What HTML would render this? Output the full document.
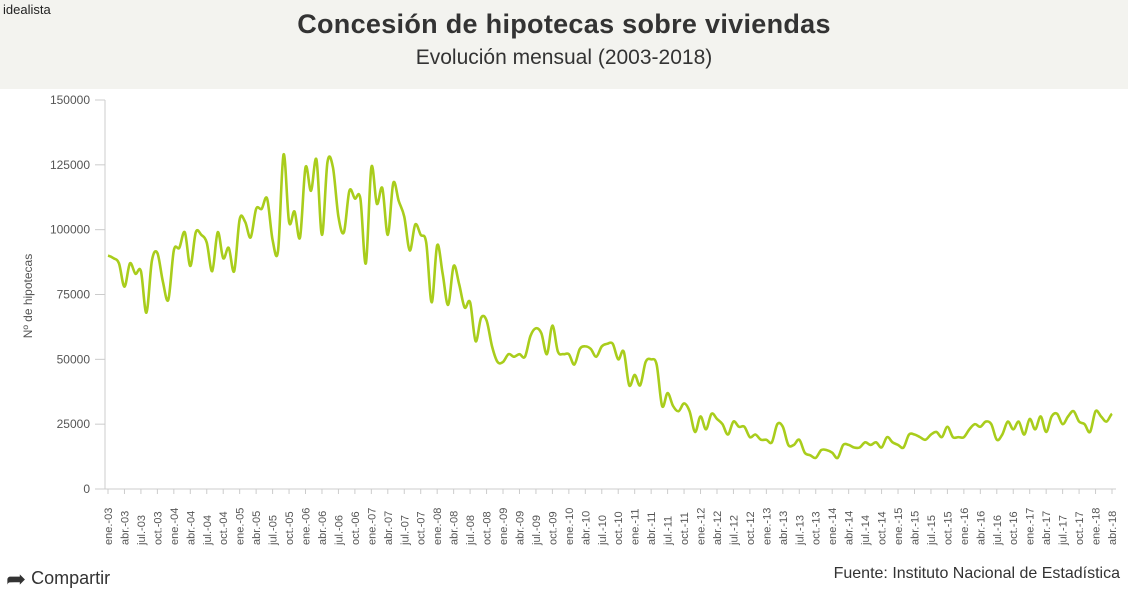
<!DOCTYPE html>
<html><head><meta charset="utf-8"><style>
body{margin:0;width:1128px;height:591px;background:#fff;font-family:"Liberation Sans",sans-serif;overflow:hidden;position:relative}
.hdr{position:absolute;left:0;top:0;width:1128px;height:89px;background:#f3f3ef}
.logo{position:absolute;left:3px;top:2px;font-size:13px;color:#222}
.t{position:absolute;left:0;width:1128px;text-align:center;color:#333}
</style></head><body>
<div class="hdr"></div>
<div class="logo">idealista</div>
<div class="t" style="top:9px;font-size:27px;font-weight:bold;letter-spacing:0.3px">Concesión de hipotecas sobre viviendas</div>
<div class="t" style="top:46px;font-size:21px">Evolución mensual (2003-2018)</div>
<svg id="s" width="1128" height="591" style="position:absolute;left:0;top:0"></svg>
<div style="position:absolute;left:6px;top:565px;font-size:18px;color:#333"><span style="font-size:24px;vertical-align:-3px">&#x27A6;</span> Compartir</div>
<div style="position:absolute;right:8px;top:565px;font-size:16px;color:#333">Fuente: Instituto Nacional de Estadística</div>
<script>
var d=[90,89,87,78,87,83,84,68,88,91,80,73,92,93,99,86,99,98,95,84,99,89,93,84,104,103,97,108,108,112,96,92,129,103,107,97,124,115,127,98,126,124,105,99,115,112,112,87,124,110,116,98,118,111,105,92,102,98,95,72,94,83,71,86,79,70,72,57,66,65,55,49,49,52,51,52,51,59,62,60,52,63,53,52,52,48,54,55,54,51,55,56,56,50,53,40,44,40,49,50,48,32,37,32,30,33,30,22,28,23,29,27,25,21,26,24,24,20,21,19,19,18,25,24,17,17,19,14,13,12,15,15,14,12,17,17,16,16,18,17,18,16,20,18,17,16,21,21,20,19,21,22,20,24,20,20,20,23,25,24,26,25,19,21,26,23,26,21,27,23,28,22,28,29,25,28,30,26,25,22,30,28,26,29];
var X=function(i){return 108+i*1004/183},Y=function(v){return 489-v*389/150};
var h='<line x1="105" y1="100" x2="105" y2="489" stroke="#ccc"/><line x1="100" y1="489" x2="1116" y2="489" stroke="#ccc"/>';
for(var k=0;k<=6;k++){var y=Y(k*25);h+='<line x1="95" y1="'+y+'" x2="105" y2="'+y+'" stroke="#ccc"/><text x="90" y="'+(y+4)+'" text-anchor="end" font-size="12" fill="#555">'+(k*25000)+'</text>';}
h+='<text transform="translate(32,296) rotate(-90)" text-anchor="middle" font-size="12" fill="#555">Nº de hipotecas</text>';
var m=['ene.','abr.','jul.','oct.'];
for(var q=0;q<62;q++){var i=q*3,x=X(i),yr=3+Math.floor(q/4);h+='<line x1="'+x+'" y1="489" x2="'+x+'" y2="494" stroke="#ccc"/><text transform="translate('+(x+4)+',545) rotate(-90)" font-size="11" fill="#555">'+m[q%4]+'-'+(yr<10?'0':'')+yr+'</text>';}
var p='M'+X(0)+','+Y(d[0]);
for(var i=0;i<d.length-1;i++){var p0=d[Math.max(i-1,0)],p1=d[i],p2=d[i+1],p3=d[Math.min(i+2,d.length-1)];var dx=1004/183/3;
p+=' C'+(X(i)+dx)+','+Y(p1+(p2-p0)/6)+' '+(X(i+1)-dx)+','+Y(p2-(p3-p1)/6)+' '+X(i+1)+','+Y(p2);}
h+='<path d="'+p+'" fill="none" stroke="#a9cd1c" stroke-width="2.6" stroke-linejoin="round"/>';
document.getElementById('s').innerHTML=h;
</script>
</body></html>
